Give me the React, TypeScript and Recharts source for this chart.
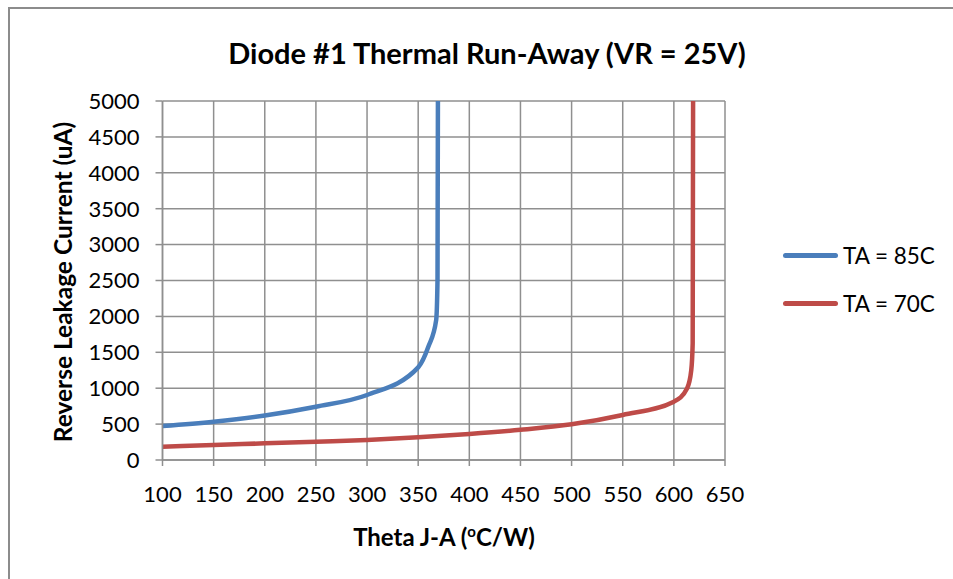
import React from 'react';
import { LineChart, Line, XAxis, YAxis, CartesianGrid } from 'recharts';

const xTicks = [100, 150, 200, 250, 300, 350, 400, 450, 500, 550, 600, 650];
const yTicks = [0, 500, 1000, 1500, 2000, 2500, 3000, 3500, 4000, 4500, 5000];

// TA = 85C
const thetaBlue = [100, 150, 200, 250, 300, 350, 360, 367.6, 368.9, 369.3];
const leakBlue = [473, 534, 620, 742, 905, 1290, 1580, 1950, 2507, 5000];

// TA = 70C
const thetaRed = [100, 150, 200, 250, 300, 350, 400, 450, 500, 550, 600, 613, 617, 618.4, 618.8];
const leakRed = [185, 209, 232, 255, 280, 318, 363, 420, 497, 627, 812, 1000, 1250, 1625, 5000];

const seriesNames = ['TA = 85C', 'TA = 70C'];
const seriesColors = ['#4a7ebb', '#be4b48'];

const blueData = thetaBlue.map((x, i) => ({ x, y: leakBlue[i] }));
const redData = thetaRed.map((x, i) => ({ x, y: leakRed[i] }));

const FONT = 'Lato, "Open Sans", sans-serif';
const GRID = '#8f8f8f';

const LegendBox = () => (
  <div style={{ position: 'absolute', left: 783, top: 231, fontFamily: FONT, fontSize: 22.5, color: '#000' }}>
    {seriesNames.map((name, i) => (
      <div key={name} style={{ display: 'flex', alignItems: 'center', height: 48 }}>
        <div style={{ width: 55, height: 5, borderRadius: 3, background: seriesColors[i], marginRight: 5 }} />
        <span>{name}</span>
      </div>
    ))}
  </div>
);

export default function App() {
  return (
    <div style={{ position: 'fixed', left: 0, top: 0, width: 953, height: 579, overflow: 'hidden', background: '#fff', fontFamily: FONT }}>
      <div style={{ position: 'absolute', left: 8, top: 7, width: 1000, height: 700, borderLeft: '2px solid #8c8c8c', borderTop: '2px solid #8c8c8c' }} />
      <div style={{ position: 'absolute', left: 487, top: 52, transform: 'translate(-50%, -50%)', whiteSpace: 'nowrap', fontWeight: 700, fontSize: 29 }}>
        Diode #1 Thermal Run-Away (VR = 25V)
      </div>
      <div style={{ position: 'absolute', left: 62, top: 282, transform: 'translate(-50%, -50%) rotate(-90deg)', whiteSpace: 'nowrap', fontWeight: 700, fontSize: 24.5 }}>
        Reverse Leakage Current (uA)
      </div>
      <div style={{ position: 'absolute', left: 444, top: 536, transform: 'translate(-50%, -50%)', whiteSpace: 'nowrap', fontWeight: 700, fontSize: 24 }}>
        Theta J-A (<sup style={{ fontSize: 15 }}>o</sup>C/W)
      </div>
      <div style={{ position: 'absolute', left: 0, top: 0 }}>
        <LineChart width={953} height={579} margin={{ top: 101, right: 228, bottom: 89, left: 102.5 }}>
          <CartesianGrid stroke={GRID} strokeWidth={1.5} />
          <XAxis
            dataKey="x"
            type="number"
            domain={[100, 650]}
            ticks={xTicks}
            interval={0}
            allowDataOverflow
            height={30}
            stroke={GRID}
            strokeWidth={1.5}
            tickSize={6}
            tickMargin={20}
            tick={{ fill: '#000', fontSize: 22, fontFamily: FONT }}
          />
          <YAxis
            dataKey="y"
            type="number"
            domain={[0, 5000]}
            ticks={yTicks}
            interval={0}
            allowDataOverflow
            width={60}
            stroke={GRID}
            strokeWidth={1.5}
            tickSize={7}
            tickMargin={16}
            tick={{ fill: '#000', fontSize: 22, fontFamily: FONT }}
          />
          <Line data={blueData} dataKey="y" name={seriesNames[0]} type="monotone" stroke={seriesColors[0]} strokeWidth={4.5} dot={false} isAnimationActive={false} />
          <Line data={redData} dataKey="y" name={seriesNames[1]} type="monotone" stroke={seriesColors[1]} strokeWidth={4.5} dot={false} isAnimationActive={false} />
        </LineChart>
      </div>
      <LegendBox />
    </div>
  );
}
